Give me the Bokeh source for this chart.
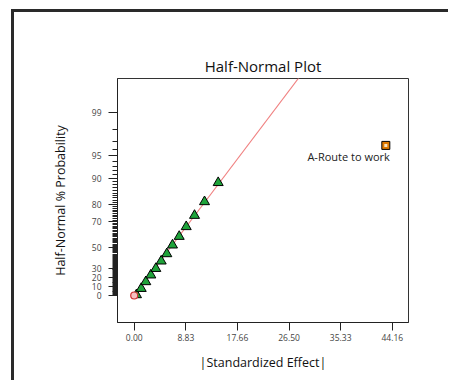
from statistics import NormalDist
from bokeh.plotting import figure
from bokeh.models import FixedTicker, Range1d, ColumnDataSource
from bokeh.core.properties import value
from bokeh.embed import file_html
from bokeh.resources import INLINE

# ---- data ----
effects = [0.39, 1.20, 1.98, 2.84, 3.70, 4.62, 5.58, 6.55, 7.70, 8.90, 10.32, 12.03, 14.37]
probs = [0.8, 7.8, 15.3, 22.6, 29.5, 37.1, 44.2, 52.1, 59.3, 66.6, 73.9, 81.2, 88.7]
error_effect = [0.0]
error_prob = [0.0]
big_effect = [43.05]
big_prob = [96.5]
big_label = ["A-Route to work"]
x_ticks = [0.0, 8.832, 17.664, 26.496, 35.328, 44.16]
x_tick_labels = ["0.00", "8.83", "17.66", "26.50", "35.33", "44.16"]
y_major = [0, 10, 20, 30, 50, 70, 80, 90, 95, 99]

nd = NormalDist()
def hn(p):
    return nd.inv_cdf(0.5 + p / 200.0) if p > 0 else 0.0

W, H = 437, 371
p = figure(width=W, height=H, output_backend="svg", toolbar_location=None,
           x_range=Range1d(-2.86, 46.93), y_range=Range1d(-0.379, 3.048),
           min_border_left=103, min_border_top=66, min_border_right=43, min_border_bottom=61,
           title="Half-Normal Plot")
p.styles = {"border-top": "3px solid #2a2a2a", "border-left": "3px solid #2a2a2a",
            "margin-left": "11px", "margin-top": "9px"}
p.grid.visible = False
p.outline_line_color = "#333333"
p.outline_line_width = 1
p.background_fill_color = "white"
p.border_fill_color = "white"

p.title.align = "center"
p.title.text_font = "Open Sans"
p.title.text_font_size = "15px"
p.title.text_font_style = "normal"
p.title.text_color = "#111111"
p.title.standoff = 6

# x axis
xa = p.xaxis[0]
xa.ticker = FixedTicker(ticks=x_ticks, minor_ticks=[])
xa.major_label_overrides = {t: l for t, l in zip(x_ticks, x_tick_labels)}
xa.axis_label = "|Standardized Effect|"
xa.major_tick_out = 8
xa.major_tick_in = 0
xa.minor_tick_out = 0
xa.major_label_standoff = 3
xa.axis_label_standoff = 10

# y axis
ya = p.yaxis[0]
minors = [hn(v) for v in range(1, 99) if v not in y_major]
yt = [hn(v) for v in y_major]
ya.ticker = FixedTicker(ticks=yt, minor_ticks=minors)
ya.major_label_overrides = {t: str(v) for t, v in zip(yt, y_major)}
ya.axis_label = "Half-Normal % Probability"
ya.major_tick_out = 9
ya.major_tick_in = 0
ya.minor_tick_out = 5
ya.minor_tick_in = 0
ya.major_label_standoff = 7
ya.axis_label_standoff = 20

for ax in (xa, ya):
    ax.axis_line_color = "#222222"
    ax.major_tick_line_color = "#222222"
    ax.minor_tick_line_color = "#222222"
    ax.major_label_text_font = "Open Sans"
    ax.major_label_text_font_size = "8.5px"
    ax.major_label_text_color = "#444444"
    ax.axis_label_text_font = "Open Sans"
    ax.axis_label_text_font_size = "12.5px"
    ax.axis_label_text_font_style = "normal"
    ax.axis_label_text_color = "#111111"

# fit line through origin (least squares on the triangles)
zs = [hn(v) for v in probs]
slope = sum(x * z for x, z in zip(effects, zs)) / sum(x * x for x in effects)
x_end = 3.2 / slope
p.line([0, x_end], [0, slope * x_end], line_color="#f08080", line_width=1.1)

p.scatter(effects, zs, marker="triangle", size=10, fill_color="#1fa33a",
          line_color="black", line_width=1)
p.scatter(error_effect, [hn(v) for v in error_prob], marker="circle", size=7,
          fill_color="#f5c0c0", line_color="#d03030", line_width=1.2)

bz = [hn(v) for v in big_prob]
p.scatter(big_effect, bz, marker="square", size=8, fill_color="#e07a00",
          line_color="black", line_width=1)
p.scatter(big_effect, bz, marker="square", size=3, fill_color="#f7e3c0", line_color=None)
src = ColumnDataSource(dict(x=big_effect, y=bz, t=big_label))
p.text("x", "y", text="t", source=src, text_align="right", text_baseline="middle",
       x_offset=4, y_offset=11, text_font=value("Open Sans"), text_font_size="11px",
       text_color="#222222")

open("out.html", "w").write(file_html(p, INLINE))
